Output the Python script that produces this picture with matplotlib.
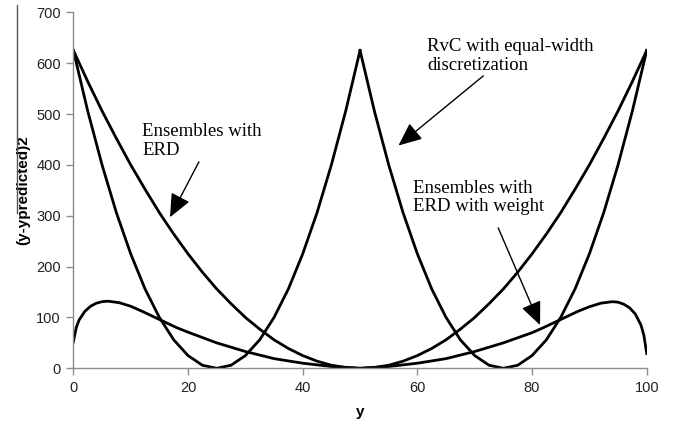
"""Squared error vs y for RvC and ERD ensembles."""
import matplotlib
matplotlib.use("Agg")
import matplotlib.pyplot as plt
from matplotlib.lines import Line2D

# x grid (y value) used by the two parabola-shaped curves
y_grid = [0, 2.5, 5, 7.5, 10, 12.5, 15, 17.5, 20, 22.5, 25, 27.5, 30, 32.5, 35,
          37.5, 40, 42.5, 45, 47.5, 50, 52.5, 55, 57.5, 60, 62.5, 65, 67.5, 70,
          72.5, 75, 77.5, 80, 82.5, 85, 87.5, 90, 92.5, 95, 97.5, 100]

# RvC with equal-width discretization, split at the cusp (y=50)
rvc_left = [625, 506, 400, 306, 225, 156, 100, 56, 25, 6, 0, 6, 25, 56, 100,
            156, 225, 306, 400, 506, 625]
rvc_right = [625, 506, 400, 306, 225, 156, 100, 56, 25, 6, 0, 6, 25, 56, 100,
             156, 225, 306, 400, 506, 625]

# Ensembles with ERD
erd = [625, 564, 506, 452, 400, 352, 306, 264, 225, 189, 156, 127, 100, 77, 56,
       39, 25, 14, 6, 1.6, 0, 1.6, 6, 14, 25, 39, 56, 77, 100, 127, 156, 189,
       225, 264, 306, 352, 400, 452, 506, 564, 625]

# Ensembles with ERD with weight
w_x = [0, 0.5, 1, 2, 3, 4, 5, 6, 8, 10, 12, 15, 18, 20, 25, 30, 35, 40, 45, 50,
       55, 60, 65, 70, 75, 80, 82, 85, 88, 90, 92, 94, 95, 96, 97, 98, 99,
       99.5, 100]
w_y = [52, 80, 95, 112, 122, 128, 131, 132, 129, 122, 112, 96, 80, 71, 50, 33,
       19, 10, 3.5, 0, 3.5, 10, 19, 33, 50, 70, 80, 96, 112, 121, 128, 131,
       130, 126, 119, 107, 85, 65, 29]

x_ticks = [0, 20, 40, 60, 80, 100]
y_ticks = [0, 100, 200, 300, 400, 500, 600, 700]

AXIS_GREY = "#8c8c8c"


def main():
    fig = plt.figure(figsize=(6.75, 4.28), dpi=100)
    ax = fig.add_axes([0.1087, 0.1395, 0.8494, 0.8318])

    lw = 2.0
    ax.plot(y_grid[:21], rvc_left, color="black", lw=lw, solid_joinstyle="miter")
    ax.plot(y_grid[20:], rvc_right, color="black", lw=lw, solid_joinstyle="miter")
    ax.plot(y_grid, erd, color="black", lw=lw)
    ax.plot(w_x, w_y, color="black", lw=lw)

    ax.set_xlim(0, 100)
    ax.set_ylim(0, 700)
    ax.set_xticks(x_ticks)
    ax.set_yticks(y_ticks)

    for side in ("top", "right"):
        ax.spines[side].set_visible(False)
    for side in ("left", "bottom"):
        ax.spines[side].set_color(AXIS_GREY)
        ax.spines[side].set_linewidth(1.0)
    ax.tick_params(direction="out", length=5, width=1, color=AXIS_GREY,
                   labelsize=10.5, labelcolor="#222222", pad=4)
    for lab in ax.get_xticklabels() + ax.get_yticklabels():
        lab.set_fontfamily("Liberation Sans")

    ax.set_xlabel("y", fontsize=11, fontweight="bold", family="Liberation Sans")
    ax.xaxis.label.set_va("center")
    ax.xaxis.set_label_coords(0.5, -0.123)
    ax.set_ylabel("(y-ypredicted)2", fontsize=11, fontweight="bold",
                  family="Liberation Sans")
    ax.yaxis.label.set_va("center")
    ax.yaxis.set_label_coords(-0.088, 0.5)

    # stray overline next to the y label
    fig.add_artist(Line2D([0.0252, 0.0252], [0.988, 0.502],
                          transform=fig.transFigure, color="#555555", lw=1.0))

    serif = "Liberation Serif"
    tsize = 13.5
    ax.text(61.7, 614, "RvC with equal-width\ndiscretization", family=serif,
            fontsize=tsize, ha="left", va="center", linespacing=1.1)
    ax.text(12.0, 447, "Ensembles with\nERD", family=serif,
            fontsize=tsize, ha="left", va="center", linespacing=1.1)
    ax.text(59.2, 336, "Ensembles with\nERD with weight", family=serif,
            fontsize=tsize, ha="left", va="center", linespacing=1.1)

    arrow = dict(arrowstyle="-|>,head_length=0.8,head_width=0.35",
                 color="black", lw=1.0, shrinkA=0, shrinkB=0, mutation_scale=18)
    ax.annotate("", xy=(56.7, 438), xytext=(71.5, 575), arrowprops=arrow)
    ax.annotate("", xy=(16.85, 297), xytext=(21.9, 406), arrowprops=arrow)
    ax.annotate("", xy=(81.4, 85), xytext=(74.1, 276), arrowprops=arrow)

    fig.savefig("out.png", dpi=100)
    plt.close(fig)


if __name__ == "__main__":
    main()
